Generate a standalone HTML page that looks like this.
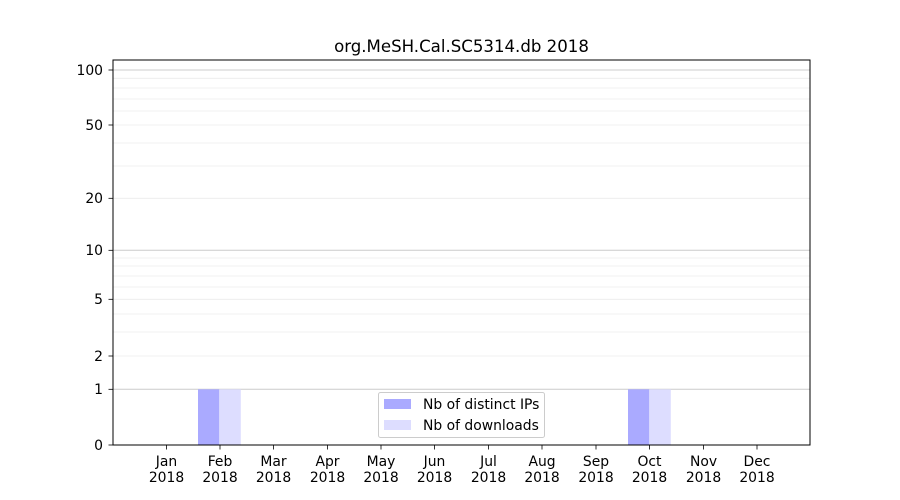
<!DOCTYPE html>
<html><head><meta charset="utf-8"><style>body{margin:0;background:#fff}svg{display:block}text{font-family:"DejaVu Sans","Liberation Sans",sans-serif;font-size:13.9px;fill:#000}</style></head>
<body>
<svg width="900" height="500" xmlns="http://www.w3.org/2000/svg">
<rect width="900" height="500" fill="#fff"/>
<g stroke="#ebebeb" stroke-width="0.8">
<line x1="113" x2="810" y1="78.3" y2="78.3"/><line x1="113" x2="810" y1="88" y2="88"/><line x1="113" x2="810" y1="99" y2="99"/><line x1="113" x2="810" y1="111" y2="111"/><line x1="113" x2="810" y1="125" y2="125"/><line x1="113" x2="810" y1="143" y2="143"/><line x1="113" x2="810" y1="166" y2="166"/><line x1="113" x2="810" y1="198.3" y2="198.3"/>
<line x1="113" x2="810" y1="258" y2="258"/><line x1="113" x2="810" y1="266" y2="266"/><line x1="113" x2="810" y1="276" y2="276"/><line x1="113" x2="810" y1="287" y2="287"/><line x1="113" x2="810" y1="299.3" y2="299.3"/><line x1="113" x2="810" y1="314" y2="314"/><line x1="113" x2="810" y1="332" y2="332"/><line x1="113" x2="810" y1="356" y2="356"/>
</g>
<g stroke="#cccccc" stroke-width="1">
<line x1="113" x2="810" y1="70" y2="70"/><line x1="113" x2="810" y1="250.3" y2="250.3"/><line x1="113" x2="810" y1="389.3" y2="389.3"/>
</g>
<rect x="198" y="389.3" width="21.3" height="55.7" fill="#aaaaff"/>
<rect x="219.3" y="389.3" width="21.5" height="55.7" fill="#ddddff"/>
<rect x="628" y="389.3" width="21.3" height="55.7" fill="#aaaaff"/>
<rect x="649.3" y="389.3" width="21.5" height="55.7" fill="#ddddff"/>
<rect x="113" y="60" width="697" height="385" fill="none" stroke="#000" stroke-width="1"/>
<g stroke="#000" stroke-width="0.8">
<line x1="108.5" x2="113" y1="70" y2="70"/><line x1="108.5" x2="113" y1="125" y2="125"/><line x1="108.5" x2="113" y1="198.3" y2="198.3"/><line x1="108.5" x2="113" y1="250.3" y2="250.3"/><line x1="108.5" x2="113" y1="299.3" y2="299.3"/><line x1="108.5" x2="113" y1="356" y2="356"/><line x1="108.5" x2="113" y1="389.3" y2="389.3"/><line x1="108.5" x2="113" y1="445" y2="445"/>
<line x1="166.5" x2="166.5" y1="445" y2="449.5"/><line x1="220" x2="220" y1="445" y2="449.5"/><line x1="273.5" x2="273.5" y1="445" y2="449.5"/><line x1="327.5" x2="327.5" y1="445" y2="449.5"/><line x1="381" x2="381" y1="445" y2="449.5"/><line x1="434.5" x2="434.5" y1="445" y2="449.5"/><line x1="488.5" x2="488.5" y1="445" y2="449.5"/><line x1="542" x2="542" y1="445" y2="449.5"/><line x1="596" x2="596" y1="445" y2="449.5"/><line x1="649.5" x2="649.5" y1="445" y2="449.5"/><line x1="703.5" x2="703.5" y1="445" y2="449.5"/><line x1="757" x2="757" y1="445" y2="449.5"/>
</g>
<g text-anchor="end">
<text x="103" y="75">100</text><text x="103" y="130">50</text><text x="103" y="203">20</text><text x="103" y="255">10</text><text x="103" y="304">5</text><text x="103" y="361">2</text><text x="103" y="394">1</text><text x="103" y="450">0</text>
</g>
<g text-anchor="middle">
<text x="166.5" y="466">Jan</text><text x="166.5" y="482">2018</text>
<text x="220" y="466">Feb</text><text x="220" y="482">2018</text>
<text x="273.5" y="466">Mar</text><text x="273.5" y="482">2018</text>
<text x="327.5" y="466">Apr</text><text x="327.5" y="482">2018</text>
<text x="381" y="466">May</text><text x="381" y="482">2018</text>
<text x="434.5" y="466">Jun</text><text x="434.5" y="482">2018</text>
<text x="488.5" y="466">Jul</text><text x="488.5" y="482">2018</text>
<text x="542" y="466">Aug</text><text x="542" y="482">2018</text>
<text x="596" y="466">Sep</text><text x="596" y="482">2018</text>
<text x="649.5" y="466">Oct</text><text x="649.5" y="482">2018</text>
<text x="703.5" y="466">Nov</text><text x="703.5" y="482">2018</text>
<text x="757" y="466">Dec</text><text x="757" y="482">2018</text>
<text x="461.5" y="52" style="font-size:16.6px">org.MeSH.Cal.SC5314.db 2018</text>
</g>
<rect x="378.5" y="392.5" width="166" height="45" rx="2" fill="#fff" fill-opacity="0.8" stroke="#cccccc" stroke-width="1"/>
<rect x="384" y="399" width="27" height="10" fill="#aaaaff"/>
<rect x="384" y="420" width="27" height="10" fill="#ddddff"/>
<text x="423" y="409">Nb of distinct IPs</text>
<text x="423" y="430">Nb of downloads</text>
</svg>
</body></html>
